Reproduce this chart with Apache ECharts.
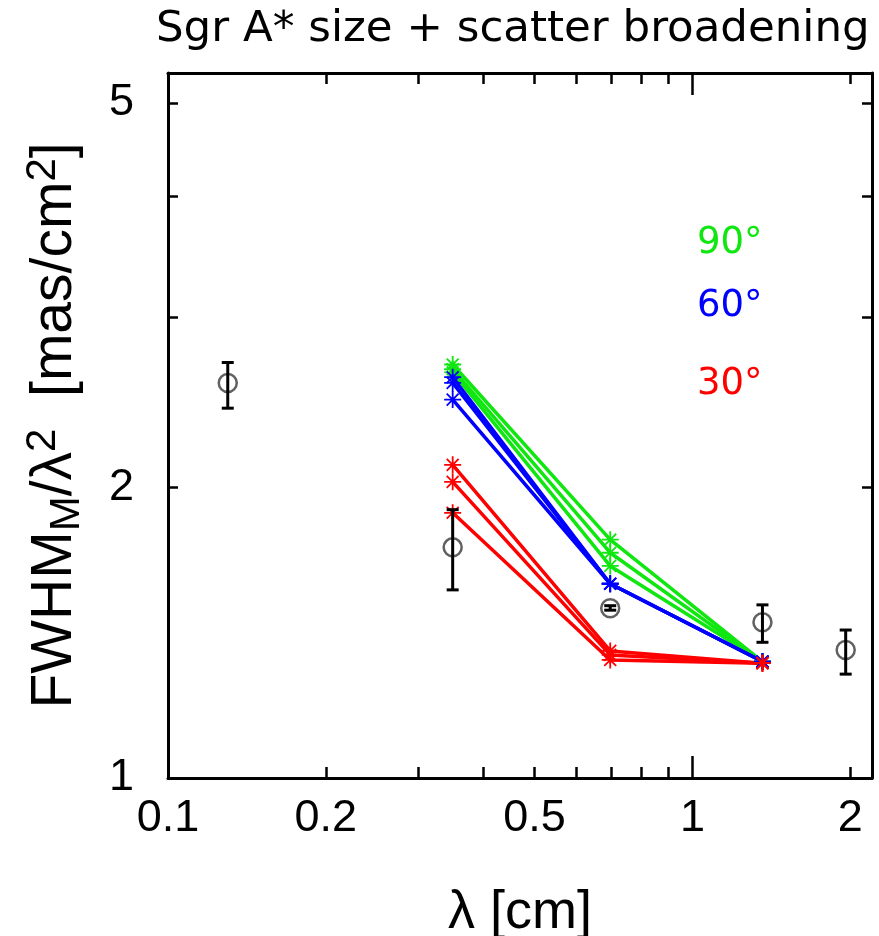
<!DOCTYPE html>
<html>
<head>
<meta charset="utf-8">
<script src="https://cdn.jsdelivr.net/npm/echarts@6/dist/echarts.min.js"></script>
<style>
  html, body { margin: 0; padding: 0; background: #fff; }
  #chart { width: 879px; height: 936px; }
</style>
</head>
<body>
<div id="chart"></div>
<script>
// Observed source sizes (scattering-normalised) with error ranges
const wavelengthsObs = [0.13, 0.349, 0.697, 1.36, 1.96];
const sizeObs = [2.564, 1.733, 1.499, 1.450, 1.357];
const sizeObsLow = [2.415, 1.566, 1.492, 1.382, 1.281];
const sizeObsHigh = [2.693, 1.896, 1.508, 1.511, 1.423];

// Model curves for three inclinations (three runs each)
const wavelengthsModel = [0.349, 0.697, 1.36];
const model90 = [[2.68, 1.765, 1.32], [2.65, 1.711, 1.32], [2.63, 1.658, 1.32]];
const model60 = [[2.60, 1.589, 1.32], [2.565, 1.589, 1.32], [2.465, 1.589, 1.32]];
const model30 = [[2.11, 1.354, 1.315], [2.026, 1.341, 1.315], [1.882, 1.325, 1.315]];

// Axis ticks
const xRange = [0.1, 2.2];
const yRange = [1, 5.37];
const xTickLabels = [0.1, 0.2, 0.5, 1, 2];
const xMinorTicks = [0.2, 0.3, 0.4, 0.5, 0.6, 0.7, 0.8, 0.9, 2];
const xMajorTicks = [1];
const yTickLabels = [1, 2, 5];
const yTicks = [2, 3, 4, 5];

const angleLabels = ['90°', '60°', '30°'];
const GREEN = '#10e610', BLUE = '#0000ff', RED = '#ff0000';

const chart = echarts.init(document.getElementById('chart'), null, { renderer: 'canvas' });

const STAR = 'path://M5,0L5,10M0,5L10,5M1.5,1.5L8.5,8.5M1.5,8.5L8.5,1.5';
const labelFont = 'Liberation Sans';

function fmt(v) { return String(Math.round(v * 100) / 100); }

function modelSeries(runs, color) {
  return runs.map(vals => ({
    type: 'line',
    xAxisIndex: 0, yAxisIndex: 0,
    data: wavelengthsModel.map((x, i) => [x, vals[i]]),
    symbol: STAR,
    symbolSize: 17,
    showAllSymbol: true,
    lineStyle: { color: color, width: 3.5 },
    itemStyle: { color: color, borderColor: color, borderWidth: 1.8 },
    z: 3
  }));
}

function xAxisDef(pos, ticks, len, withLabels, showLine) {
  return {
    type: 'log', position: pos, min: xRange[0], max: xRange[1],
    axisLine: { show: showLine, onZero: false, lineStyle: { color: '#000', width: 3 } },
    axisTick: { show: true, inside: true, length: len, customValues: ticks, lineStyle: { color: '#000', width: 2.5 } },
    axisLabel: withLabels ? {
      show: true, customValues: xTickLabels, formatter: fmt, margin: 18,
      fontSize: 45, fontFamily: labelFont, color: '#000'
    } : { show: false },
    splitLine: { show: false }
  };
}

function yAxisDef(pos, withLabels) {
  return {
    type: 'log', position: pos, min: yRange[0], max: yRange[1],
    axisLine: { show: true, onZero: false, lineStyle: { color: '#000', width: 3 } },
    axisTick: { show: true, inside: true, length: 10, customValues: yTicks, lineStyle: { color: '#000', width: 2.5 } },
    axisLabel: withLabels ? {
      show: true, customValues: yTickLabels, formatter: fmt, margin: 34,
      fontSize: 45, fontFamily: labelFont, color: '#000'
    } : { show: false },
    splitLine: { show: false }
  };
}

const bottomAxis = xAxisDef('bottom', xMinorTicks, 11, true, true);
bottomAxis.name = 'λ [cm]';
bottomAxis.nameLocation = 'middle';
bottomAxis.nameGap = 108;
bottomAxis.nameTextStyle = { fontSize: 54, fontFamily: labelFont, color: '#000' };

const leftAxis = yAxisDef('left', true);
leftAxis.name = 'FWHM{sub|M}/λ{sup|2}  [mas/cm{sup|2}]';
leftAxis.nameLocation = 'middle';
leftAxis.nameRotate = 90;
leftAxis.nameGap = 80;
leftAxis.nameTextStyle = {
  fontSize: 57, fontFamily: labelFont, color: '#000', lineHeight: 66,
  rich: {
    sub: { fontSize: 42, fontFamily: labelFont, color: '#000', lineHeight: 38, verticalAlign: 'bottom' },
    sup: { fontSize: 42, fontFamily: labelFont, color: '#000', lineHeight: 30, verticalAlign: 'top' }
  }
};

const option = {
  animation: false,
  backgroundColor: '#fff',
  title: {
    text: 'Sgr A* size + scatter broadening',
    left: 156, top: 8, padding: 0,
    textStyle: { fontFamily: 'DejaVu Sans', fontSize: 43.5, fontWeight: 'normal', color: '#000' }
  },
  grid: { left: 168, right: 7, top: 73, bottom: 158, containLabel: false, outerBoundsMode: 'none' },
  xAxis: [
    bottomAxis,
    xAxisDef('bottom', xMajorTicks, 22, false, false),
    xAxisDef('top', xMinorTicks, 11, false, true),
    xAxisDef('top', xMajorTicks, 22, false, false)
  ],
  yAxis: [
    leftAxis,
    yAxisDef('right', false)
  ],
  graphic: angleLabels.map((t, i) => ({
    type: 'text', left: 697, top: [225, 288, 366][i],
    style: { text: t, fill: [GREEN, BLUE, RED][i], font: '37px "DejaVu Sans"' },
    z: 10
  })),
  series: [
    ...modelSeries(model90, GREEN),
    ...modelSeries(model60, BLUE),
    ...modelSeries(model30, RED),
    {
      type: 'scatter',
      xAxisIndex: 0, yAxisIndex: 0,
      data: wavelengthsObs.map((x, i) => [x, sizeObs[i]]),
      symbol: 'circle', symbolSize: 18,
      itemStyle: { color: 'rgba(0,0,0,0)', borderColor: '#3a3a3a', borderWidth: 2.5 },
      z: 4
    },
    {
      type: 'custom',
      xAxisIndex: 0, yAxisIndex: 0,
      data: wavelengthsObs.map((x, i) => [x, sizeObs[i], sizeObsLow[i], sizeObsHigh[i]]),
      encode: { x: 0, y: [1, 2, 3] },
      renderItem: function (params, api) {
        const x = api.value(0);
        const pLo = api.coord([x, api.value(2)]);
        const pHi = api.coord([x, api.value(3)]);
        const half = 6;
        const st = { stroke: '#000', lineWidth: 3 };
        return {
          type: 'group',
          children: [
            { type: 'line', shape: { x1: pLo[0], y1: pLo[1], x2: pHi[0], y2: pHi[1] }, style: st },
            { type: 'line', shape: { x1: pLo[0] - half, y1: pLo[1], x2: pLo[0] + half, y2: pLo[1] }, style: st },
            { type: 'line', shape: { x1: pHi[0] - half, y1: pHi[1], x2: pHi[0] + half, y2: pHi[1] }, style: st }
          ]
        };
      },
      z: 5
    }
  ]
};

chart.setOption(option);
</script>
</body>
</html>
